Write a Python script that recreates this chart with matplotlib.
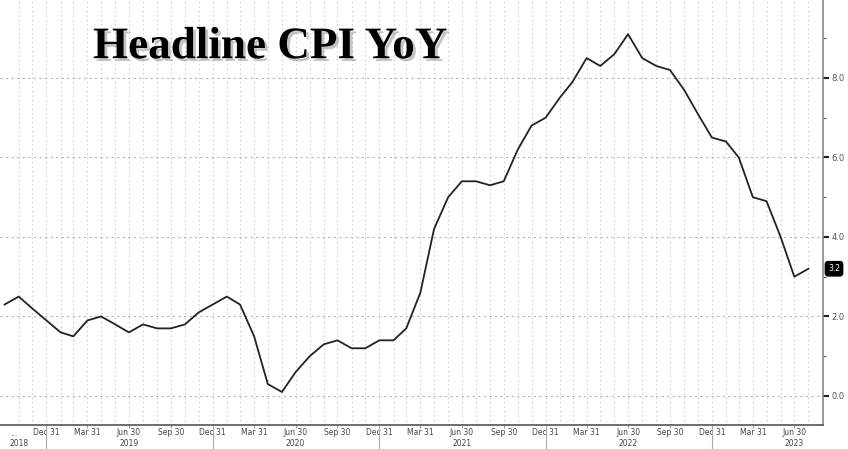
import matplotlib
matplotlib.use("Agg")
from matplotlib import pyplot as plt
import matplotlib.dates as mdates
import matplotlib.patheffects as pe
import pandas as pd

# monthly CPI YoY %, Sep 2018 .. Jul 2023
start_month = "2018-09-30"
cpi_yoy = [2.3, 2.5, 2.2, 1.9,
           1.6, 1.5, 1.9, 2.0, 1.8, 1.6, 1.8, 1.7, 1.7, 1.8, 2.1, 2.3,
           2.5, 2.3, 1.5, 0.3, 0.1, 0.6, 1.0, 1.3, 1.4, 1.2, 1.2, 1.4,
           1.4, 1.7, 2.6, 4.2, 5.0, 5.4, 5.4, 5.3, 5.4, 6.2, 6.8, 7.0,
           7.5, 7.9, 8.5, 8.3, 8.6, 9.1, 8.5, 8.3, 8.2, 7.7, 7.1, 6.5,
           6.4, 6.0, 5.0, 4.9, 4.0, 3.0, 3.2]
y_ticks = [0.0, 2.0, 4.0, 6.0, 8.0]
years = [2018, 2019, 2020, 2021, 2022, 2023]
title = "Headline CPI YoY"

dates = pd.date_range(start_month, periods=len(cpi_yoy), freq="ME")

fig = plt.figure(figsize=(8.48, 4.49), dpi=100)
ax = fig.add_axes([0.0, 1 - 425 / 449, 823 / 848, 425 / 449])

ax.plot(dates, cpi_yoy, color="#222222", lw=1.3)

ax.set_xlim(pd.Timestamp("2018-09-20"), pd.Timestamp("2023-09-01"))
ax.set_ylim(-0.73, 9.96)

# grids
for d in pd.date_range("2018-10-31", "2023-08-31", freq="ME"):
    ax.axvline(d, color="#bbbbbb", lw=0.8, ls=(0, (1, 3)), zorder=0)
for v in y_ticks:
    ax.axhline(v, color="#b5b5b5", lw=0.8, ls=(0, (2, 3)), zorder=0)

# y axis on the right
ax.yaxis.tick_right()
ax.set_yticks(y_ticks)
ax.set_yticklabels([f"{v:.1f}" for v in y_ticks], fontsize=6, color="#555555")
ax.set_yticks([1, 3, 5, 7, 9], minor=True)
ax.tick_params(axis="y", which="major", length=4, width=1.5, color="#222222", pad=2)
ax.tick_params(axis="y", which="minor", length=2, width=0.8, color="#555555")

# x axis quarter labels
qdates = pd.date_range("2018-12-31", "2023-06-30", freq="QE")
ax.set_xticks(qdates)
ax.set_xticklabels([d.strftime("%b %d") for d in qdates], fontsize=5.5, color="#444444")
ax.tick_params(axis="x", length=2.5, width=0.6, color="#888888", pad=0)

trans = ax.get_xaxis_transform()
for yr in years:
    mid = mdates.date2num(pd.Timestamp(f"{yr}-06-30"))
    if yr == 2018:
        mid = mdates.date2num(pd.Timestamp("2018-10-31"))
        ax.annotate("...", xy=(mdates.date2num(pd.Timestamp("2018-10-20")), 0),
                    xycoords=trans, xytext=(0, -8), textcoords="offset pixels",
                    ha="center", va="center", fontsize=5.5, color="#444444",
                    annotation_clip=False)
    ax.annotate(str(yr), xy=(mid, 0), xycoords=trans, xytext=(0, -18),
                textcoords="offset pixels", ha="center", va="center",
                fontsize=5.5, color="#444444", annotation_clip=False)
    if yr < 2023:
        sep = mdates.date2num(pd.Timestamp(f"{yr}-12-31"))
        ax.plot([sep, sep], [0, -0.06], transform=trans, color="#aaaaaa",
                lw=0.8, clip_on=False)

for side in ["top", "left"]:
    ax.spines[side].set_visible(False)
ax.spines["bottom"].set_color("#555555")
ax.spines["bottom"].set_linewidth(1.2)
ax.spines["right"].set_color("#888888")
ax.spines["right"].set_linewidth(1.2)

# last value tag
ax.annotate(f"{cpi_yoy[-1]:.1f}", xy=(1.0, cpi_yoy[-1]), xycoords=("axes fraction", "data"),
            xytext=(5, 0), textcoords="offset pixels", ha="left", va="center",
            fontsize=5.5, color="white",
            bbox=dict(boxstyle="round,pad=0.35", fc="black", ec="black"))

# title with shadow
ax.text(0.113, 0.889, title, transform=ax.transAxes, fontsize=32.5,
        family="Liberation Serif", weight="bold", color="black", ha="left", va="center",
        path_effects=[pe.SimplePatchShadow(offset=(2, -2), shadow_rgbFace="#888888", alpha=0.5),
                      pe.Normal()])

fig.savefig("out.png", dpi=100, facecolor="white")
